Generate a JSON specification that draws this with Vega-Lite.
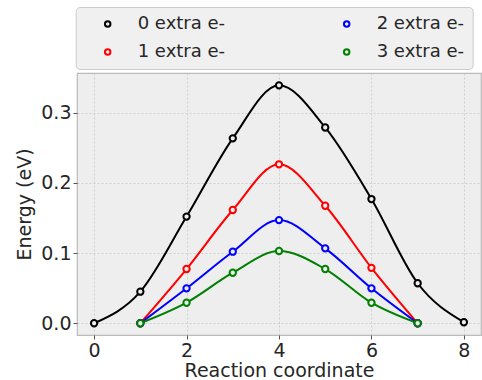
{
  "$schema": "https://vega.github.io/schema/vega-lite/v6.json",
  "autosize": "none",
  "width": 404,
  "height": 262,
  "padding": {"left": 77, "top": 73, "right": 1, "bottom": 45},
  "background": "white",
  "config": {
    "font": "DejaVu Sans",
    "view": {"fill": "#eeeeee", "stroke": "#bbbbbb", "strokeWidth": 1.2},
    "axis": {
      "domain": false,
      "grid": true,
      "gridColor": "#c8c8c8",
      "gridDash": [2, 2],
      "gridWidth": 0.8,
      "tickColor": "#555555",
      "tickSize": 4,
      "tickWidth": 1,
      "labelFont": "DejaVu Sans",
      "labelFontSize": 19,
      "labelColor": "#262626",
      "labelPadding": 2,
      "titleFont": "DejaVu Sans",
      "titleFontSize": 19,
      "titleFontWeight": "normal",
      "titleColor": "#262626"
    }
  },
  "data": {
    "values": [
      {"x": 0, "E": 0.0, "s": "0 extra e-"},
      {"x": 1, "E": 0.045, "s": "0 extra e-"},
      {"x": 2, "E": 0.152, "s": "0 extra e-"},
      {"x": 3, "E": 0.2635, "s": "0 extra e-"},
      {"x": 4, "E": 0.339, "s": "0 extra e-"},
      {"x": 5, "E": 0.279, "s": "0 extra e-"},
      {"x": 6, "E": 0.177, "s": "0 extra e-"},
      {"x": 7, "E": 0.057, "s": "0 extra e-"},
      {"x": 8, "E": 0.0015, "s": "0 extra e-"},
      {"x": 1, "E": 0.0, "s": "1 extra e-"},
      {"x": 2, "E": 0.0773, "s": "1 extra e-"},
      {"x": 3, "E": 0.1614, "s": "1 extra e-"},
      {"x": 4, "E": 0.2265, "s": "1 extra e-"},
      {"x": 5, "E": 0.1675, "s": "1 extra e-"},
      {"x": 6, "E": 0.079, "s": "1 extra e-"},
      {"x": 7, "E": 0.0, "s": "1 extra e-"},
      {"x": 1, "E": 0.0, "s": "2 extra e-"},
      {"x": 2, "E": 0.0498, "s": "2 extra e-"},
      {"x": 3, "E": 0.102, "s": "2 extra e-"},
      {"x": 4, "E": 0.147, "s": "2 extra e-"},
      {"x": 5, "E": 0.1068, "s": "2 extra e-"},
      {"x": 6, "E": 0.0498, "s": "2 extra e-"},
      {"x": 7, "E": 0.0, "s": "2 extra e-"},
      {"x": 1, "E": 0.0, "s": "3 extra e-"},
      {"x": 2, "E": 0.0293, "s": "3 extra e-"},
      {"x": 3, "E": 0.072, "s": "3 extra e-"},
      {"x": 4, "E": 0.103, "s": "3 extra e-"},
      {"x": 5, "E": 0.0773, "s": "3 extra e-"},
      {"x": 6, "E": 0.0293, "s": "3 extra e-"},
      {"x": 7, "E": 0.0, "s": "3 extra e-"}
    ]
  },
  "encoding": {
    "x": {
      "field": "x",
      "type": "quantitative",
      "scale": {"domain": [-0.37, 8.37], "nice": false, "zero": false},
      "axis": {"values": [0, 2, 4, 6, 8], "format": "d", "title": "Reaction coordinate", "titlePadding": 1}
    },
    "y": {
      "field": "E",
      "type": "quantitative",
      "scale": {"domain": [-0.0167, 0.3566], "nice": false, "zero": false},
      "axis": {"values": [0, 0.1, 0.2, 0.3], "format": ".1f", "title": "Energy (eV)", "titlePadding": 6}
    },
    "color": {
      "field": "s",
      "type": "nominal",
      "scale": {
        "domain": ["0 extra e-", "2 extra e-", "1 extra e-", "3 extra e-"],
        "range": ["#000000", "#0000ff", "#ff0000", "#008000"]
      },
      "legend": {
        "title": null,
        "orient": "none",
        "legendX": -1.3,
        "legendY": -66,
        "direction": "horizontal",
        "columns": 2,
        "padding": 8,
        "fillColor": "#f0f0f0",
        "strokeColor": "#cccccc",
        "cornerRadius": 4,
        "symbolType": "circle",
        "symbolSize": 30,
        "symbolStrokeWidth": 2,
        "symbolFillColor": "#f0f0f0",
        "symbolOffset": 15,
        "labelFont": "DejaVu Sans",
        "labelFontSize": 18,
        "labelColor": "#262626",
        "labelOffset": 21,
        "labelLimit": 300,
        "columnPadding": 97,
        "rowPadding": 10
      }
    }
  },
  "layer": [
    {
      "mark": {"type": "line", "interpolate": "monotone", "strokeWidth": 2}
    },
    {
      "mark": {"type": "point", "shape": "circle", "filled": false, "fill": "#eeeeee", "fillOpacity": 1, "size": 40, "strokeWidth": 2, "opacity": 1}
    }
  ]
}
